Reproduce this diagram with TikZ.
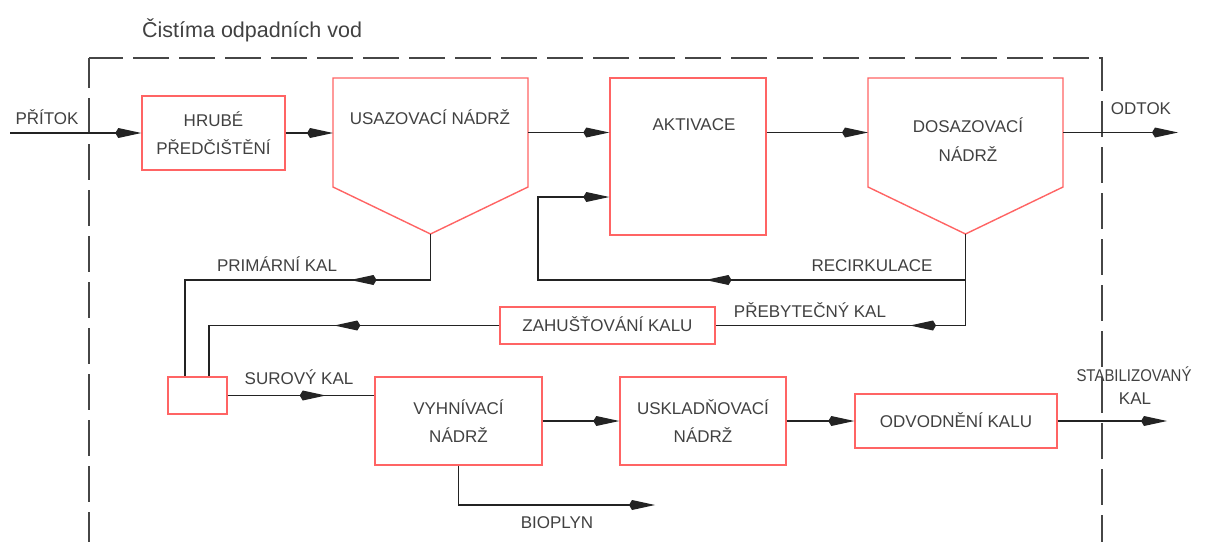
\documentclass[tikz,border=0pt]{standalone}
\usepackage{fontspec}
\setmainfont{Liberation Sans}
\usetikzlibrary{arrows.meta,decorations.markings}
\definecolor{boxred}{RGB}{255,100,100}
\definecolor{ln}{RGB}{35,35,35}
\definecolor{txt}{RGB}{65,65,65}
\definecolor{frm}{RGB}{70,70,70}
\tikzset{
  tipA/.tip={Kite[length=26pt,width=10pt,inset=3pt]},
  box/.style={draw=boxred, line width=1.4pt, inner sep=0pt, align=center,
    font=\fontsize{17}{28}\selectfont, text=txt},
  lbl/.style={inner sep=0pt, text=txt, font=\fontsize{17}{20}\selectfont,
    text height=12.2pt, text depth=0pt},
  conn/.style={draw=ln, line width=1.2pt},
  arr/.style={conn, -tipA},
  midarr/.style={postaction=decorate, decoration={markings,
    mark=at position #1 with {\arrow{tipA}}}},
  frame/.style={draw=frm, line width=1.5pt, dash pattern=on 36pt off 10pt},
  tank/.style={draw=boxred, line width=1.4pt},
  hidden/.style={inner sep=0pt, outer sep=0pt}
}
\begin{document}
\begin{tikzpicture}[x=1pt,y=-1pt]
\useasboundingbox[fill=white] (0,0) rectangle (1205,541);

% dashed frame
\draw[frame, dash phase=6pt] (89,58) -- (89,545);
\draw[frame, dash phase=2pt] (89,58) -- (1102,58) -- (1102,545);
\node[inner sep=0pt, text=txt, font=\fontsize{21.5}{24}\selectfont, anchor=base west] (title) at (142,37) {Čistíma odpadních vod};

% boxes
\node[box, minimum width=143pt, minimum height=74pt] (hrube) at (213.5,133) {HRUBÉ\\PŘEDČIŠTĚNÍ};

\node[hidden, minimum width=195pt, minimum height=109pt] (usaz) at (430.5,132.5) {};
\coordinate (usazP) at (430.5,234);
\draw[tank] (usaz.north west) -- (usaz.north east) -- (usaz.south east) -- (usazP) -- (usaz.south west) -- cycle;
\node[lbl] (usazT) at (430,118) {USAZOVACÍ NÁDRŽ};

\node[box, minimum width=156pt, minimum height=157pt] (akt) at (688,156.5) {};
\node[lbl] (aktT) at (694,124) {AKTIVACE};

\node[hidden, minimum width=195pt, minimum height=109pt] (dosaz) at (965.5,132.5) {};
\coordinate (dosazP) at (965.5,234);
\draw[tank] (dosaz.north west) -- (dosaz.north east) -- (dosaz.south east) -- (dosazP) -- (dosaz.south west) -- cycle;
\node[lbl] (dosazT1) at (968,126) {DOSAZOVACÍ};
\node[lbl] (dosazT2) at (968,155) {NÁDRŽ};

\node[box, minimum width=215pt, minimum height=37pt, text height=12.2pt, text depth=0pt] (zah) at (607.5,325.5) {ZAHUŠŤOVÁNÍ KALU};
\node[box, minimum width=59pt, minimum height=37pt] (mix) at (197.5,395.5) {};
\node[box, minimum width=167pt, minimum height=88pt] (vyh) at (458.5,421) {VYHNÍVACÍ\\NÁDRŽ};
\node[box, minimum width=166pt, minimum height=88pt] (usk) at (703,421) {USKLADŇOVACÍ\\NÁDRŽ};
\node[box, minimum width=202pt, minimum height=54pt, text height=12.2pt, text depth=0pt] (odv) at (956,421) {ODVODNĚNÍ KALU};

% main line
\coordinate (inlet) at (10,133);
\draw[arr] (inlet) -- (hrube.west);
\draw[arr] (hrube.east) -- (hrube.east -| usaz.west);
\draw[arr] (usaz.east) -- (usaz.east -| akt.west);
\draw[arr] (usaz.east -| akt.east) -- (dosaz.west);
\coordinate (outlet) at (1178,132.5);
\draw[arr] (dosaz.east) -- (outlet);

% recirculation
\coordinate (rj) at (965.5,280);
\coordinate (rl) at (538,280);
\coordinate (rt) at (538,197);
\draw[arr, midarr=306pt] (dosazP) -- (rj) -- (rl) -- (rt) -- (rt -| akt.west);

% excess sludge
\coordinate (xj) at (965.5,325.5);
\draw[conn, midarr=147pt] (dosazP) -- (xj) -- (zah.east);

% thickened sludge
\coordinate (zl) at (209,325.5);
\draw[conn, midarr=165pt] (zah.west) -- (zl) -- (zl |- mix.north);

% primary sludge
\coordinate (pj) at (430.5,280);
\coordinate (pl) at (185,280);
\draw[conn, midarr=126pt] (usazP) -- (pj) -- (pl) -- (pl |- mix.north);

% raw sludge
\draw[conn, midarr=98pt] (mix.east) -- (mix.east -| vyh.west);

% sludge line
\draw[arr] (vyh.east) -- (usk.west);
\draw[arr] (usk.east) -- (odv.west);
\coordinate (sludge) at (1167,421);
\draw[arr] (odv.east) -- (sludge);

% biogas
\coordinate (bj) at (458.5,505);
\coordinate (bio) at (655,505);
\draw[arr] (vyh.south) -- (bj) -- (bio);

% labels
\node[lbl] (lin) at (47,118) {PŘÍTOK};
\node[lbl] (lout) at (1141,108) {ODTOK};
\node[lbl] (lprim) at (277,265) {PRIMÁRNÍ KAL};
\node[lbl] (lrec) at (872,265) {RECIRKULACE};
\node[lbl] (lexc) at (810,311) {PŘEBYTEČNÝ KAL};
\node[lbl] (lraw) at (299,378) {SUROVÝ KAL};
\node[lbl] (lstab1) at (1134,375) {\scalebox{0.88}[1]{STABILIZOVANÝ}};
\node[lbl] (lstab2) at (1135,398) {KAL};
\node[lbl] (lbio) at (557,522) {BIOPLYN};
\end{tikzpicture}
\end{document}
